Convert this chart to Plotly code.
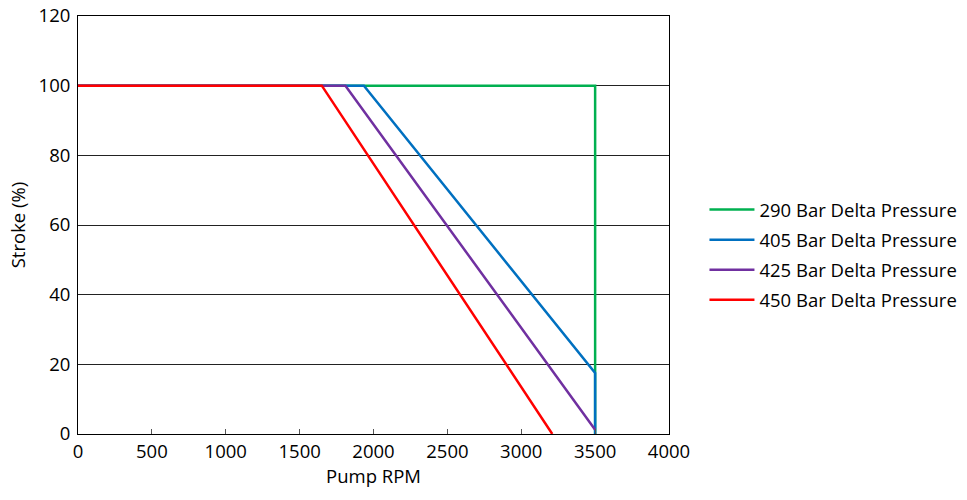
import plotly.graph_objects as go

names = ["290 Bar Delta Pressure", "405 Bar Delta Pressure",
         "425 Bar Delta Pressure", "450 Bar Delta Pressure"]
colors = ["#00b050", "#0070c0", "#7030a0", "#ff0000"]
rpm = [
    [0, 3500, 3500],
    [0, 1935, 3500, 3500],
    [0, 1810, 3500],
    [0, 1650, 3210],
]
stroke = [
    [100, 100, 0],
    [100, 100, 17.5, 0],
    [100, 100, 1.2],
    [100, 100, 0],
]
x_ticks = [0, 500, 1000, 1500, 2000, 2500, 3000, 3500, 4000]
y_ticks = [0, 20, 40, 60, 80, 100, 120]

font_family = "Open Sans, DejaVu Sans, sans-serif"
fs = 18.5

fig = go.Figure()
for n, c, x, y in zip(names, colors, rpm, stroke):
    fig.add_trace(go.Scatter(x=x, y=y, mode="lines", name=n, legendgroup=n,
                             line=dict(color=c, width=2.5)))

fig.update_layout(
    width=967, height=500,
    margin=dict(l=78, r=298, t=16, b=66, autoexpand=False),
    paper_bgcolor="white", plot_bgcolor="white",
    font=dict(family=font_family, size=fs, color="black"),
    legend=dict(x=1.06, y=0.428, xanchor="left", yanchor="middle",
                font=dict(size=fs), tracegroupgap=3, itemwidth=45,
                bgcolor="rgba(0,0,0,0)"),
    xaxis=dict(range=[0, 4000], tickvals=x_ticks, ticks="inside", ticklen=5,
               tickcolor="#555", showgrid=False, zeroline=False,
               showline=True, linecolor="black", linewidth=1, mirror=True,
               automargin=False, ticklabelstandoff=1,
               title=dict(text="Pump RPM", font=dict(size=fs), standoff=4)),
    yaxis=dict(range=[0, 120], tickvals=y_ticks, ticks="", showgrid=True,
               gridcolor="#222", gridwidth=1, zeroline=False,
               showline=True, linecolor="black", linewidth=1, mirror=True,
               automargin=False, ticklabelstandoff=3,
               title=dict(text="Stroke (%)", font=dict(size=fs), standoff=8)),
)

fig.write_html("out.html")
